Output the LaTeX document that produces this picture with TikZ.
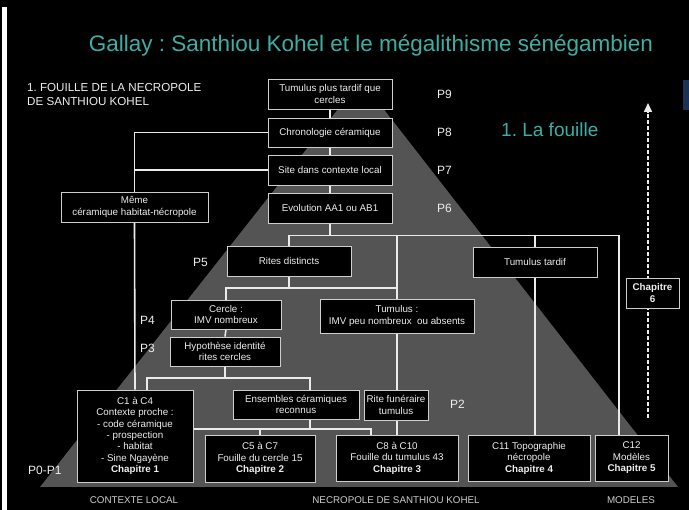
\documentclass[tikz,border=0pt]{standalone}
\usepackage{fontspec}
\setmainfont{Liberation Sans}
\frenchspacing
\usetikzlibrary{arrows.meta}
\definecolor{teal1}{RGB}{60,175,165}
\definecolor{tri}{RGB}{84,84,84}
\definecolor{edge}{RGB}{205,205,205}
\definecolor{wirec}{RGB}{235,235,235}
\definecolor{txt}{RGB}{238,238,238}
\definecolor{navy}{RGB}{25,50,85}
\pgfdeclarelayer{bg}\pgfdeclarelayer{wires}\pgfsetlayers{bg,wires,main}
\begin{document}
\begin{tikzpicture}[x=1pt,y=-1pt,
 box/.style={draw=edge, line width=0.9pt, fill=black, text=txt, align=center, inner sep=1pt, font=\fontsize{9.8}{11.5}\selectfont},
 wire/.style={draw=wirec, line width=1.6pt},
 plab/.style={text=txt, font=\fontsize{12}{14}\selectfont, inner sep=0pt, anchor=west},
 blab/.style={text=edge, font=\fontsize{9.8}{11}\selectfont, inner sep=0pt}]
\useasboundingbox (0,0) rectangle (689,510);
\begin{pgfonlayer}{bg}
\fill[black] (0,0) rectangle (689,510);
\fill[white] (2,7) rectangle (7,510);
\fill[navy] (683,80) rectangle (689,110);
\fill[tri] (361,80) -- (678,487) -- (40,487) -- cycle;
\end{pgfonlayer}

% titles
\node[text=teal1, font=\fontsize{22.5}{26}\selectfont, inner sep=0pt] (title) at (371,46) {Gallay : Santhiou Kohel et le mégalithisme sénégambien};
\node[text=teal1, font=\fontsize{19}{22}\selectfont, inner sep=0pt, anchor=west] (fouille) at (501,130) {1. La fouille};
\node[text=txt, font=\fontsize{11.6}{13.5}\selectfont, inner sep=0pt, anchor=west, align=left] (head) at (27,94.5) {1. FOUILLE DE LA NECROPOLE\\DE SANTHIOU KOHEL};

% boxes
\node[box, minimum width=124pt, minimum height=30pt] (b9) at (330,94) {Tumulus plus tardif que\\cercles};
\node[box, minimum width=124pt, minimum height=29pt] (b8) at (330,132.5) {Chronologie céramique};
\node[box, minimum width=124pt, minimum height=30pt] (b7) at (330,170) {Site dans contexte local};
\node[box, minimum width=124pt, minimum height=30pt] (b6) at (330,208) {Evolution AA1 ou AB1};
\node[box, minimum width=147pt, minimum height=30pt] (meme) at (134.5,207) {Même\\céramique habitat-nécropole};
\node[box, minimum width=124pt, minimum height=30pt] (rites) at (289,261) {Rites distincts};
\node[box, minimum width=124pt, minimum height=30pt] (tt) at (535,262) {Tumulus tardif};
\node[box, minimum width=110pt, minimum height=29pt] (cercle) at (226,314.5) {Cercle :\\IMV nombreux};
\node[box, minimum width=110pt, minimum height=29pt] (hyp) at (225,351.5) {Hypothèse identité\\rites cercles};
\node[box, minimum width=154pt, minimum height=34pt] (tum) at (397,316) {Tumulus :\\IMV peu nombreux\ \ ou absents};
\node[box, minimum width=53pt, minimum height=30pt] (ch6) at (652.5,293) {\textbf{Chapitre}\\\textbf{6}};
\node[box, minimum width=126pt, minimum height=29pt] (ens) at (296,404.5) {Ensembles céramiques\\reconnus};
\node[box, minimum width=64pt, minimum height=30pt] (rite) at (396,405) {Rite funéraire\\tumulus};
\node[box, minimum width=116pt, minimum height=92pt, font=\fontsize{9.8}{11.3}\selectfont] (c1) at (135,436) {C1 à C4\\Contexte proche :\\- code céramique\\- prospection\\- habitat\\- Sine Ngayène\\\textbf{Chapitre 1}};
\node[box, minimum width=110pt, minimum height=47pt] (c5) at (260,458.5) {C5 à C7\\Fouille du cercle 15\\\textbf{Chapitre 2}};
\node[box, minimum width=122pt, minimum height=46pt] (c8) at (397,458) {C8 à C10\\Fouille du tumulus 43\\\textbf{Chapitre 3}};
\node[box, minimum width=122pt, minimum height=46pt] (c11) at (529,458) {C11 Topographie\\nécropole\\\textbf{Chapitre 4}};
\node[box, minimum width=73pt, minimum height=46pt] (c12) at (631.5,458) {C12\\Modèles\\\textbf{Chapitre 5}};

% P labels
\node[plab] (p9) at (437,94) {P9};
\node[plab] (p8) at (437,132) {P8};
\node[plab] (p7) at (437,170) {P7};
\node[plab] (p6) at (437,208) {P6};
\node[plab] (p5) at (193,262) {P5};
\node[plab] (p4) at (140,320) {P4};
\node[plab] (p3) at (140,348) {P3};
\node[plab] (p2) at (450,404) {P2};
\node[plab] (p01) at (28,470) {P0-P1};

% bottom labels
\node[blab] (l1) at (134,500) {CONTEXTE LOCAL};
\node[blab] (l2) at (396,500) {NECROPOLE DE SANTHIOU KOHEL};
\node[blab] (l3) at (631,500) {MODELES};

% junction coordinates
\coordinate (h6) at (330,235.5);
\coordinate (r12) at (619,235.5);
\coordinate (h5) at (289,288);
\coordinate (a3) at (147,378);
\coordinate (e3) at (310,378);
\coordinate (h2) at (371,429);
\coordinate (dtop) at (648,103);
\coordinate (dbot) at (648,418);

\begin{pgfonlayer}{wires}
\draw[wire] (b9.south) -- (b8.north);
\draw[wire] (b8.south) -- (b7.north);
\draw[wire] (b7.south) -- (b6.north);
\draw[wire] (b8.west) -| (meme.north);
\draw[wire] (b7.west) -- (b7.west -| meme.north);
\draw[wire] (meme.south) -- (c1.north);
\draw[wire] (b6.south) -- (h6);
\draw[wire] (rites.north) |- (r12) -- (r12 |- c12.north);
\draw[wire] (tum.north) -- (tum.north |- h6);
\draw[wire] (tt.north) -- (tt.north |- h6);
\draw[wire] (tt.south) -- (tt.south |- c11.north);
\draw[wire] (rites.south) -- (h5);
\draw[wire] (cercle.north) |- (h5) -- (h5 -| tum.north);
\draw[wire] (cercle.south) -- (hyp.north);
\draw[wire] (hyp.south) -- (hyp.south |- a3);
\draw[wire] (a3 |- c1.north) -- (a3) -- (e3) -- (e3 |- ens.north);
\draw[wire] (tum.south) -- (rite.north -| tum.south);
\draw[wire] (rite.south -| tum.south) -- (c8.north -| tum.south);
\draw[wire] (e3 |- ens.south) -- (e3 |- h2);
\draw[wire] (c1.east |- h2) -- (h2) -- (h2 |- c8.north);
\draw[wire] (c5.north) -- (c5.north |- h2);
\draw[draw=wirec, line width=1.6pt, dash pattern=on 4pt off 2pt, -{Triangle[length=9pt,width=8pt,fill=wirec]}] (dbot) -- (dtop);
\end{pgfonlayer}
\end{tikzpicture}
\end{document}
